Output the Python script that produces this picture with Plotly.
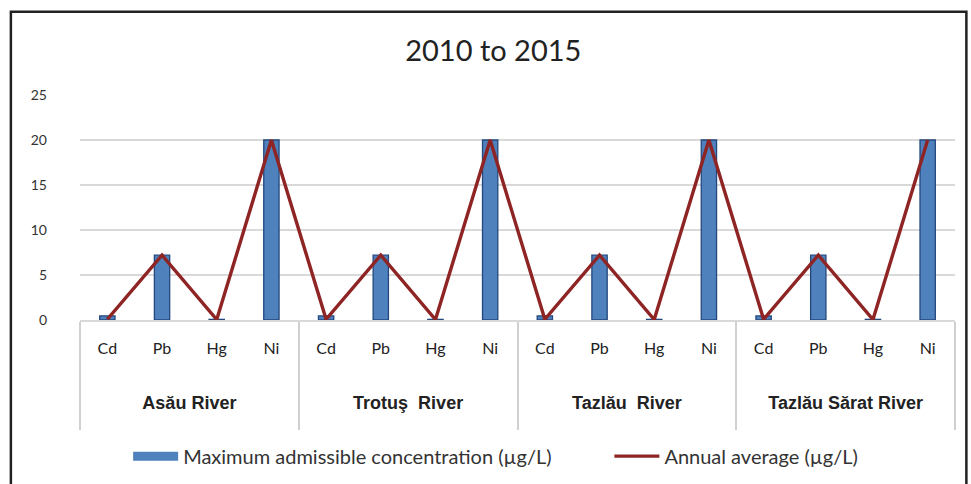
import plotly.graph_objects as go

# Rivers and the metals monitored on each
rivers = ["Asău River", "Trotuş  River", "Tazlău  River", "Tazlău Sărat River"]
metals = ["Cd", "Pb", "Hg", "Ni"]

# Per-metal values (µg/L), repeated for each river
mac_values = [0.45, 7.2, 0.07, 20]
annual_avg_values = [0.08, 7.2, 0.05, 20]

mac_name = "Maximum admissible concentration (µg/L)"
avg_name = "Annual average (µg/L)"

# Two-level category labels; blank lines open up room between the levels
group_style = "font-family:Liberation Sans;font-size:18px"
inner_style = "font-size:16px"
river_labels = ["<br><br><br><span style='%s'><b>%s</b></span><br> " % (group_style, r) for r in rivers]
metal_labels = ["<br><span style='%s'>%s</span>" % (inner_style, m) for m in metals]

x_outer = [r for r in river_labels for _ in metal_labels]
x_inner = [m for _ in river_labels for m in metal_labels]
bars_y = [v for _ in rivers for v in mac_values]
line_y = [v for _ in rivers for v in annual_avg_values]

font_family = "Lato, 'Open Sans', sans-serif"
bar_color = "#4F81BD"

fig = go.Figure()
fig.add_trace(go.Bar(
    x=[x_outer, x_inner], y=bars_y,
    name=mac_name, showlegend=False,
    marker=dict(color=bar_color, line=dict(color="#24487E", width=1.3)),
    width=0.28,
))
# Legend-only entry so the bar key is drawn as a wide swatch
fig.add_trace(go.Scatter(
    x=[None], y=[None], name=mac_name, mode="lines",
    line=dict(color=bar_color, width=9), legend="legend",
))
fig.add_trace(go.Scatter(
    x=[x_outer, x_inner], y=line_y,
    name=avg_name,
    mode="lines",
    line=dict(color="#8E2424", width=3.4), legend="legend2",
))

legend_common = dict(orientation="h", xanchor="left", y=-0.605, yanchor="middle",
                     font=dict(size=20, color="#333333"), itemwidth=45,
                     bgcolor="rgba(0,0,0,0)")

fig.update_layout(
    width=971, height=484,
    paper_bgcolor="white", plot_bgcolor="white",
    margin=dict(l=80, r=16, t=95, b=164, autoexpand=False),
    title=dict(text="2010 to 2015", x=0.508, xanchor="center", y=0.895, yanchor="middle",
               font=dict(family=font_family, size=29, color="#222222")),
    font=dict(family=font_family, color="#333333"),
    showlegend=True,
    legend=dict(x=0.055, **legend_common),
    legend2=dict(x=0.605, **legend_common),
    shapes=[dict(type="rect", xref="paper", yref="paper",
                 x0=-0.079, x1=1.013, y0=-0.75, y1=1.37,
                 line=dict(color="#222222", width=2.5), fillcolor="rgba(0,0,0,0)")],
)
fig.update_yaxes(range=[0, 25], dtick=5, showgrid=True, gridcolor="#D9D9D9", gridwidth=1.5,
                 zeroline=False, showline=False, ticklabelstandoff=32,
                 tickfont=dict(size=14, color="#333333"))
fig.update_xaxes(type="multicategory", showline=True, linecolor="#D9D9D9", linewidth=1.5,
                 showdividers=True, dividercolor="#D0D0D0", dividerwidth=1.5,
                 tickfont=dict(size=13, color="#222222"))

fig.write_html("out.html")
